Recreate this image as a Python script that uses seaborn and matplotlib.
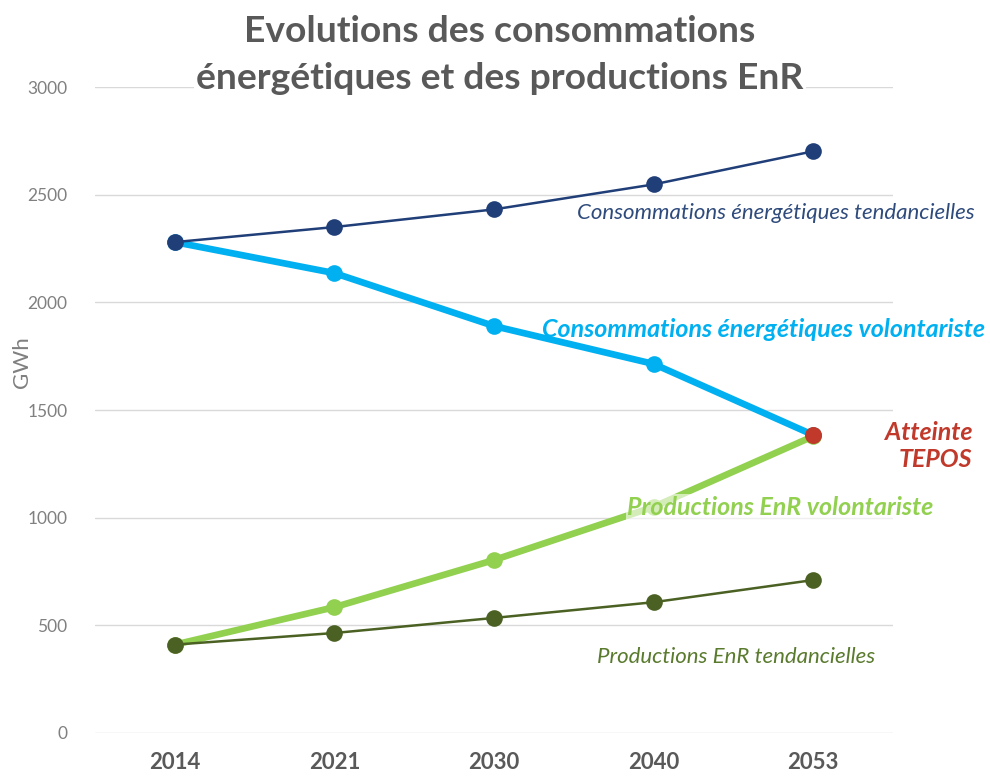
import matplotlib
matplotlib.use("Agg")
import matplotlib.pyplot as plt
import seaborn as sns

YEARS = ["2014", "2021", "2030", "2040", "2053"]
CONSO_TEND = [2280, 2350, 2432, 2548, 2702]
CONSO_VOL = [2280, 2136, 1890, 1714, 1384]
PROD_VOL = [410, 584, 803, 1050, 1378]
PROD_TEND = [410, 464, 534, 607, 710]
Y_TICKS = [0, 500, 1000, 1500, 2000, 2500, 3000]

sns.set_theme(style="white")
plt.rcParams["font.family"] = ["Lato", "DejaVu Sans"]

fig = plt.figure(figsize=(9.9, 7.78), dpi=100)
ax = fig.add_axes([0.096, 0.058, 0.806, 0.830])

# thick "volontariste" series first, thin "tendancielles" on top
sns.lineplot(x=YEARS, y=CONSO_VOL, ax=ax, color="#00B0F0", lw=4.8,
             marker="o", markersize=12, markeredgewidth=0, sort=False)
sns.lineplot(x=YEARS, y=PROD_VOL, ax=ax, color="#92D050", lw=4.8,
             marker="o", markersize=12, markeredgewidth=0, sort=False)
sns.lineplot(x=YEARS, y=CONSO_TEND, ax=ax, color="#203E78", lw=1.8,
             marker="o", markersize=12, markeredgewidth=0, sort=False)
sns.lineplot(x=YEARS, y=PROD_TEND, ax=ax, color="#4B6123", lw=1.8,
             marker="o", markersize=12, markeredgewidth=0, sort=False)
# TEPOS crossing point
sns.scatterplot(x=YEARS[-1:], y=CONSO_VOL[-1:], ax=ax, color="#C0392B",
                s=150, linewidth=0, zorder=5)

ax.set_xlim(-0.5, 4.5)
ax.set_ylim(0, 3000)
ax.set_yticks(Y_TICKS)
ax.set_yticklabels([str(v) for v in Y_TICKS], color="#808080", fontsize=12.5)
ax.set_xticks(range(len(YEARS)))
ax.set_xticklabels(YEARS, fontsize=16, fontweight="bold", color="#595959")
ax.tick_params(axis="both", length=0)
ax.tick_params(axis="y", pad=20)
ax.tick_params(axis="x", pad=14)
ax.grid(axis="y", color="#D9D9D9", lw=1)
ax.set_axisbelow(True)
for s in ax.spines.values():
    s.set_visible(False)
ax.set_ylabel("")
ax.set_xlabel("")
fig.text(0.022, 0.535, "GWh", rotation=90, ha="center", va="center",
         color="#808080", fontsize=16)

fig.text(0.505, 0.960, "Evolutions des consommations", ha="center", va="center",
         fontsize=26.8, fontweight="bold", color="#595959")
fig.text(0.505, 0.899, "énergétiques et des productions EnR", ha="center", va="center",
         fontsize=26.8, fontweight="bold", color="#595959",
         bbox=dict(facecolor="white", edgecolor="none", pad=2))

fig.text(0.984, 0.726, "Consommations énergétiques tendancielles", ha="right",
         va="center", fontsize=16, style="italic", color="#2F4B7C")
fig.text(0.995, 0.576, "Consommations énergétiques volontariste", ha="right",
         va="center", fontsize=18, style="italic", fontweight="bold", color="#00B0F0")
fig.text(0.982, 0.427, "Atteinte\nTEPOS", ha="right", va="center", fontsize=18,
         style="italic", fontweight="bold", color="#C0392B", linespacing=1.2)
fig.text(0.943, 0.348, "Productions EnR volontariste", ha="right", va="center",
         fontsize=18, style="italic", fontweight="bold", color="#92D050",
         bbox=dict(facecolor="white", edgecolor="none", alpha=0.6, pad=1))
fig.text(0.884, 0.155, "Productions EnR tendancielles", ha="right", va="center",
         fontsize=16, style="italic", color="#5A7A2E")

fig.savefig("out.png", dpi=100)
